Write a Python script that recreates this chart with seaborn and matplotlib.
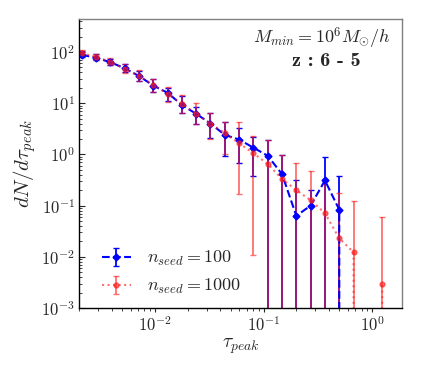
import numpy as np
import matplotlib
matplotlib.use("Agg")
import matplotlib.pyplot as plt
import seaborn as sns

# ---- data ----
tau = [0.00211, 0.00286, 0.00388, 0.00525, 0.00711, 0.00964, 0.01306, 0.01769,
       0.02396, 0.03246, 0.04397, 0.05957, 0.0807, 0.1093, 0.1481, 0.2006,
       0.2717, 0.3681, 0.4987, 0.6756, 0.915, 1.24]

blue_val = [88, 77, 63, 48, 34, 22, 16, 9.2, 6.2, 4.0, 2.4, 1.95, 1.35, 0.94, 0.41,
            0.063, 0.10, 0.31, 0.083, 0, 0, 0]
blue_lo = [81, 70, 56, 40, 27.5, 16.8, 11, 6.5, 3.9, 2.06, 0.93, 0.69, 0.38, 0, 0,
           0, 0, 0, 0, 0, 0, 0]
blue_hi = [105, 91, 74, 58, 43, 29, 19.5, 13.8, 8.5, 6.4, 4.2, 3.24, 2.22, 1.9, 0.98,
           0.316, 0.2, 0.88, 0.38, 0, 0, 0]

red_val = [94, 81, 64, 47, 34, 23, 15, 9.8, 6.2, 4.0, 2.6, 1.65, 1.05, 0.65, 0.33,
           0.20, 0.127, 0.071, 0.023, 0.0122, 0, 0.0030]
red_lo = [82, 70, 55, 39, 27, 16.5, 10.5, 6.3, 3.9, 2.0, 1.0, 0.17, 0.011, 0, 0,
          0, 0, 0, 0, 0, 0, 0]
red_hi = [108, 92, 75, 59, 44, 30, 20.5, 14.5, 10, 6.5, 4.35, 4.2, 2.3, 1.9, 0.98,
          0.67, 0.48, 0.3, 0.18, 0.124, 0, 0.059]

labels = [r'$n_{seed} = 100$', r'$n_{seed} = 1000$']

sns.set_style("white")
plt.rcParams['font.family'] = ['cmr10', 'DejaVu Serif']
plt.rcParams['mathtext.fontset'] = 'cm'
plt.rcParams['axes.formatter.use_mathtext'] = True
plt.rcParams['axes.unicode_minus'] = False

fig = plt.figure(figsize=(4.21, 3.69), dpi=100)
ax = fig.add_axes([0.188, 0.1653, 0.767, 0.7832])

tau_a = np.array(tau)
bv = np.array(blue_val, float)
rv = np.array(red_val, float)
b_err = [bv - np.array(blue_lo), np.array(blue_hi) - bv]
r_err = [rv - np.array(red_lo), np.array(red_hi) - rv]
b_err = [np.where(bv > 0, e, 0) for e in b_err]
r_err = [np.where(rv > 0, e, 0) for e in r_err]

ax.set_xscale('log', nonpositive='clip')
ax.set_yscale('log', nonpositive='clip')

ax.errorbar(tau_a, bv, yerr=b_err, color='#0000ff', ls='--', lw=1.5,
            marker='D', ms=3.5, capsize=2, elinewidth=1.3, capthick=1,
            label=labels[0])
ax.errorbar(tau_a, rv, yerr=r_err, color='#ff1a1a', ls=':', lw=1.5,
            marker='o', ms=3.5, capsize=2, elinewidth=1.3, capthick=1,
            alpha=0.62, label=labels[1])

ax.set_xlim(0.002, 1.89)
ax.set_ylim(1e-3, 440)

ax.set_xlabel(r'$\tau_{peak}$', fontsize=14, labelpad=2)
ax.set_ylabel(r'$dN/d\tau_{peak}$', fontsize=15, labelpad=2)

ax.tick_params(axis='both', which='major', labelsize=12)
ax.tick_params(axis='y', which='both', direction='in', left=True, right=False, pad=3)
ax.tick_params(axis='y', which='major', length=4, width=0.8)
ax.tick_params(axis='y', which='minor', length=2, width=0.6)
ax.tick_params(axis='x', which='both', direction='out', bottom=True, top=False, pad=2)
ax.tick_params(axis='x', which='major', length=3, width=0.8)
ax.tick_params(axis='x', which='minor', length=2, width=0.6)

for s in ['left', 'bottom']:
    ax.spines[s].set_color('black')
    ax.spines[s].set_linewidth(1.0)
for s in ['top', 'right']:
    ax.spines[s].set_color('#808080')
    ax.spines[s].set_linewidth(1.0)

ax.text(0.965, 0.935, r'$M_{min} = 10^6 M_{\odot}/h$', transform=ax.transAxes,
        ha='right', va='center', fontsize=13)
ax.text(0.765, 0.855, 'z : 6 - 5', transform=ax.transAxes, family='cmb10',
        ha='center', va='center', fontsize=14.5)

ax.legend(loc='lower left', frameon=False, fontsize=13, bbox_to_anchor=(0.02, -0.015),
          handlelength=1.6, handletextpad=0.9, labelspacing=0.5)

fig.savefig('out.png', dpi=100)
